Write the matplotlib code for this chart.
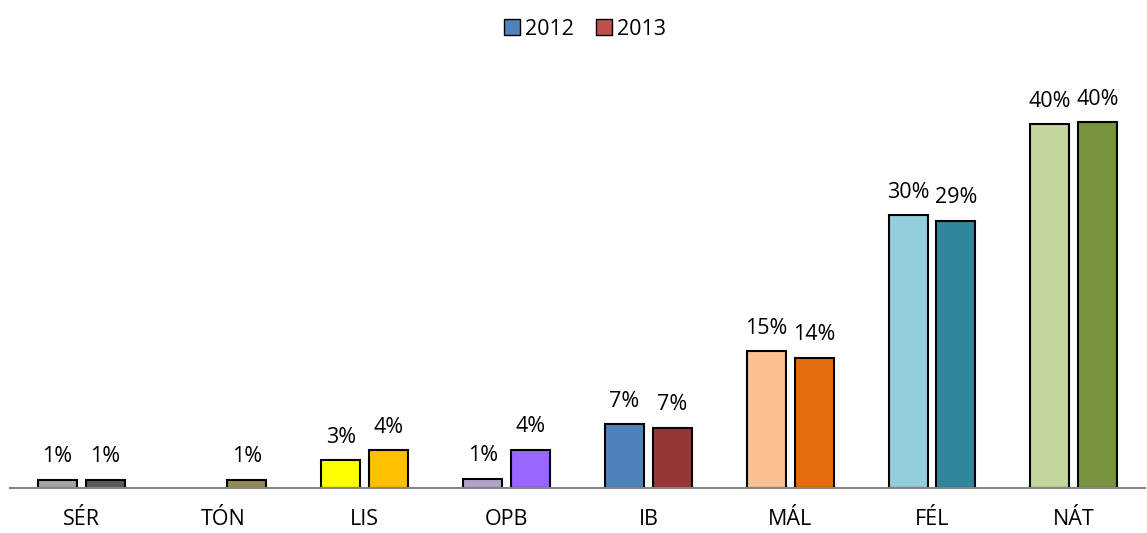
import numpy as np
import matplotlib.pyplot as plt
from matplotlib.patches import Patch

plt.rcParams['font.family'] = ['Open Sans', 'DejaVu Sans']

# Data (share in %)
categories = ["SÉR", "TÓN", "LIS", "OPB", "IB", "MÁL", "FÉL", "NÁT"]
values_2012 = [0.9, None, 3.0, 1.0, 7.0, 15.0, 30.0, 40.0]
values_2013 = [0.9, 0.9, 4.1, 4.2, 6.6, 14.3, 29.4, 40.2]

colors_2012 = ["#A5A5A5", "#948A54", "#FFFF00", "#B3A2C7", "#4F81BD", "#FAC090", "#93CDDD", "#C3D69B"]
colors_2013 = ["#595959", "#948A54", "#FFC000", "#9966FF", "#953735", "#E46C0A", "#31859C", "#77933C"]

fig = plt.figure(figsize=(11.47, 5.33), dpi=100)
ax = fig.add_axes([0.009, 0.085, 0.989, 0.767])

x = np.arange(len(categories))
w = 0.275
off = 0.169

for i in range(len(categories)):
    for v, c, dx in [(values_2012[i], colors_2012[i], -off), (values_2013[i], colors_2013[i], off)]:
        if v is None:
            continue
        ax.bar(x[i] + dx, v, width=w, color=c, edgecolor="black", linewidth=1.5)
        ax.annotate(f"{v:.0f}%", (x[i] + dx, v), xytext=(0, 9), textcoords="offset points",
                    ha="center", va="bottom", fontsize=15.5)

ax.set_xlim(-0.5, len(categories) - 0.5)
ax.set_ylim(0, 45)
ax.set_xticks(x)
ax.set_xticklabels(categories, fontsize=15.5)
ax.tick_params(axis="x", length=0, pad=15)
ax.set_yticks([])
for s in ["top", "right", "left"]:
    ax.spines[s].set_visible(False)
ax.spines["bottom"].set_color("#868686")
ax.spines["bottom"].set_linewidth(1.5)

handles = [Patch(facecolor="#4F81BD", edgecolor="black", label="2012"),
           Patch(facecolor="#C0504D", edgecolor="black", label="2013")]
fig.legend(handles=handles, loc="center", bbox_to_anchor=(0.51, 0.945), ncol=2, frameon=False,
           fontsize=15.5, handlelength=0.75, handleheight=0.75, handletextpad=0.25, columnspacing=1.0)

fig.savefig("out.png", dpi=100)
